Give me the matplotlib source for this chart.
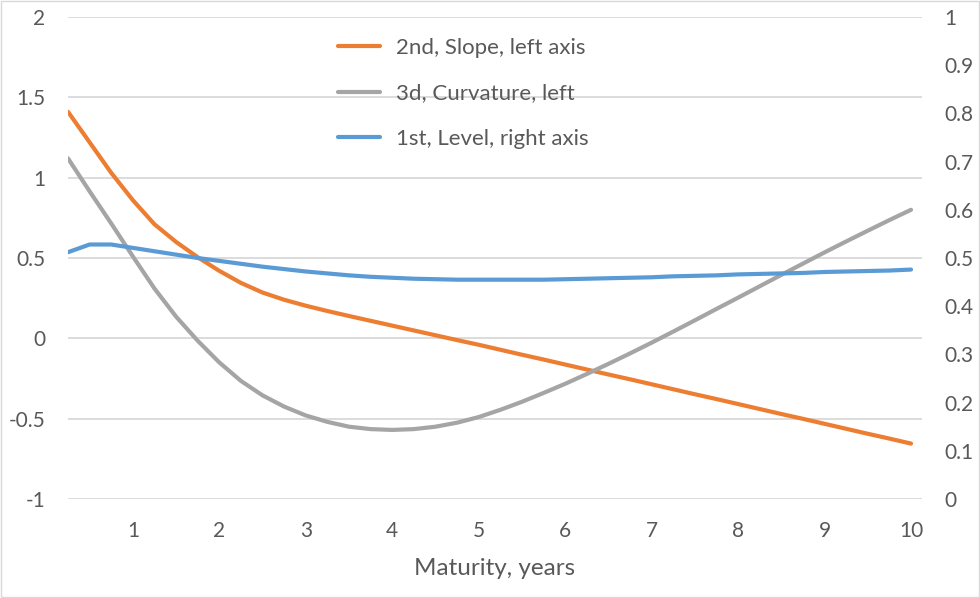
import matplotlib
matplotlib.use("Agg")
import matplotlib.pyplot as plt
from matplotlib.patches import Rectangle

plt.rcParams['font.family'] = ['Lato', 'DejaVu Sans']

maturity = [0.25, 0.5, 0.75, 1.0, 1.25, 1.5, 1.75, 2.0, 2.25, 2.5,
            2.75, 3.0, 3.25, 3.5, 3.75, 4.0, 4.25, 4.5, 4.75, 5.0,
            5.25, 5.5, 5.75, 6.0, 6.25, 6.5, 6.75, 7.0, 7.25, 7.5,
            7.75, 8.0, 8.25, 8.5, 8.75, 9.0, 9.25, 9.5, 9.75, 10.0]

slope = [1.41, 1.22, 1.03, 0.86, 0.71, 0.60, 0.505, 0.42, 0.345, 0.285,
         0.24, 0.203, 0.17, 0.139, 0.109, 0.079, 0.049, 0.019, -0.011, -0.04,
         -0.071, -0.102, -0.132, -0.163, -0.194, -0.225, -0.255, -0.286, -0.317, -0.348,
         -0.378, -0.409, -0.44, -0.471, -0.501, -0.532, -0.563, -0.594, -0.624, -0.655]

curvature = [1.12, 0.915, 0.715, 0.51, 0.31, 0.135, -0.015, -0.15, -0.265, -0.355,
             -0.425, -0.48, -0.52, -0.55, -0.565, -0.57, -0.565, -0.55, -0.525, -0.49,
             -0.445, -0.395, -0.34, -0.283, -0.222, -0.159, -0.094, -0.027, 0.042, 0.112,
             0.183, 0.253, 0.324, 0.395, 0.465, 0.535, 0.603, 0.670, 0.736, 0.80]

level = [0.512, 0.528, 0.528, 0.521, 0.514, 0.507, 0.500, 0.494, 0.488, 0.482,
         0.477, 0.472, 0.468, 0.464, 0.461, 0.459, 0.457, 0.456, 0.455, 0.455,
         0.455, 0.455, 0.455, 0.456, 0.457, 0.458, 0.459, 0.460, 0.462, 0.463,
         0.464, 0.466, 0.467, 0.468, 0.469, 0.471, 0.472, 0.473, 0.474, 0.476]

labels = ["2nd, Slope, left axis", "3d, Curvature, left", "1st, Level, right axis"]
colors = ["#ED7D31", "#A5A5A5", "#5B9BD5"]
txt = "#595959"

fig = plt.figure(figsize=(9.8, 5.98), dpi=100)
ax = fig.add_axes([68 / 980, 1 - 499 / 598, (922 - 68) / 980, (499 - 17) / 598])
ax2 = ax.twinx()

l1, = ax.plot(maturity, slope, color=colors[0], lw=3, solid_capstyle='round')
l2, = ax.plot(maturity, curvature, color=colors[1], lw=3, solid_capstyle='round')
l3, = ax2.plot(maturity, level, color=colors[2], lw=3, solid_capstyle='round')

ax.set_xlim(0.25, 10.127)
ax.set_ylim(-1, 2)
ax2.set_ylim(0, 1)
ax.set_xticks(range(1, 11))
ax.set_yticks([-1, -0.5, 0, 0.5, 1, 1.5, 2])
ax.set_yticklabels(["-1", "-0.5", "0", "0.5", "1", "1.5", "2"])
ax2.set_yticks([i / 10 for i in range(11)])
ax2.set_yticklabels(["0", "0.1", "0.2", "0.3", "0.4", "0.5", "0.6", "0.7", "0.8", "0.9", "1"])

ax.grid(axis='y', color='#D9D9D9', lw=1.3)
ax.set_axisbelow(True)
for a in (ax, ax2):
    for s in a.spines.values():
        s.set_visible(False)
    a.tick_params(length=0, labelsize=15, labelcolor=txt)
ax.tick_params(axis='y', pad=16.5)
ax.tick_params(axis='x', pad=16)
ax2.tick_params(axis='y', pad=16)
ax.set_xlabel("Maturity, years", fontsize=17.5, color=txt, labelpad=12)

fig.legend([l1, l2, l3], labels, loc='upper left', bbox_to_anchor=(338 / 980, 1 - 38 / 598),
           frameon=False, fontsize=16, labelcolor=txt, handlelength=1.9,
           handletextpad=0.72, labelspacing=1.15, borderpad=0, borderaxespad=0)

fig.patches.append(Rectangle((0.001, 0.001), 0.998, 0.997, transform=fig.transFigure,
                             fill=False, edgecolor='#D9D9D9', lw=1))

fig.savefig("out.png", dpi=100)
